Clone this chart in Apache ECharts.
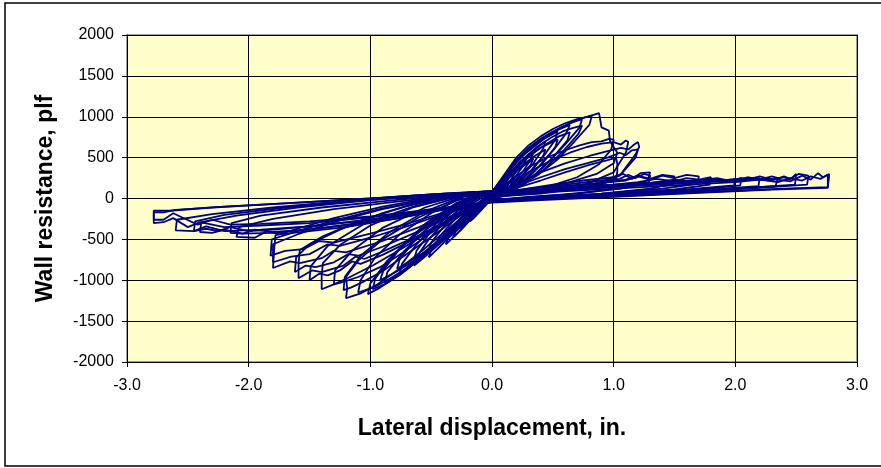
<!DOCTYPE html>
<html>
<head>
	<meta http-equiv="Content-Type" content="text/html; charset=UTF-8">
	<title>Wall resistance hysteresis</title>
	<script src="https://cdn.jsdelivr.net/npm/echarts@6/dist/echarts.min.js"></script>
	<style>
		body { margin: 0; background: #fff; }
	</style>
</head>
<body>

	<div id="main" style="width: 881px;height:468px;"></div>

	<script>

		// axis ticks
		const xTicks = [-3, -2, -1, 0, 1, 2, 3];
		const yTicks = [-2000, -1500, -1000, -500, 0, 500, 1000, 1500, 2000];

		// each cycle: [displacement in., resistance plf]
		const c01 = [[0,0],[0.05,100],[0.1,200],[0.15,300],[0.13,230],[0.08,120],[0.03,40],[0,0],[-0.05,-80],[-0.1,-160],[-0.15,-240],[-0.18,-280],[-0.16,-210],[-0.1,-100],[-0.04,-10],[0,40]];
		const c02 = [[0,40],[0.06,140],[0.12,240],[0.17,320],[0.22,400],[0.2,330],[0.14,200],[0.07,90],[0,20],[-0.06,-70],[-0.12,-170],[-0.19,-280],[-0.26,-390],[-0.24,-320],[-0.17,-180],[-0.08,-40],[0,50]];
		const c03 = [[0,50],[0.06,150],[0.12,250],[0.18,340],[0.23,420],[0.28,480],[0.26,410],[0.19,260],[0.1,120],[0,20],[-0.07,-80],[-0.14,-190],[-0.2,-290],[-0.26,-390],[-0.32,-470],[-0.3,-400],[-0.22,-240],[-0.11,-60],[0,60]];
		const c04 = [[0,60],[0.07,170],[0.14,290],[0.2,390],[0.27,480],[0.34,560],[0.32,480],[0.25,320],[0.15,160],[0.06,60],[0,10],[-0.08,-90],[-0.16,-220],[-0.23,-340],[-0.3,-450],[-0.38,-560],[-0.36,-480],[-0.27,-300],[-0.15,-110],[-0.05,20],[0,70]];
		const c05 = [[0,70],[0.08,170],[0.16,280],[0.24,380],[0.3,440],[0.34,490],[0.32,420],[0.24,260],[0.13,120],[0.05,40],[0,0],[-0.09,-100],[-0.18,-230],[-0.27,-360],[-0.33,-440],[-0.38,-500],[-0.36,-420],[-0.26,-250],[-0.14,-80],[0,70]];
		const c06 = [[0,70],[0.08,200],[0.16,340],[0.24,460],[0.31,550],[0.38,630],[0.44,700],[0.42,610],[0.34,430],[0.24,260],[0.13,130],[0.05,40],[0,0],[-0.1,-120],[-0.2,-260],[-0.29,-390],[-0.37,-500],[-0.45,-620],[-0.52,-720],[-0.5,-630],[-0.41,-430],[-0.29,-230],[-0.16,-60],[-0.05,40],[0,80]];
		const c07 = [[0,80],[0.1,200],[0.19,330],[0.28,440],[0.36,530],[0.44,600],[0.42,520],[0.33,350],[0.21,180],[0.09,70],[0,10],[-0.12,-120],[-0.23,-270],[-0.34,-420],[-0.44,-540],[-0.52,-630],[-0.5,-540],[-0.39,-330],[-0.24,-130],[-0.1,20],[0,80]];
		const c08 = [[0,80],[0.08,220],[0.17,390],[0.26,530],[0.35,640],[0.43,730],[0.49,780],[0.54,820],[0.52,720],[0.43,530],[0.32,340],[0.2,180],[0.08,70],[0,10],[-0.12,-130],[-0.24,-300],[-0.35,-450],[-0.45,-580],[-0.55,-710],[-0.64,-820],[-0.62,-720],[-0.52,-500],[-0.38,-270],[-0.22,-80],[-0.08,40],[0,80]];
		const c09 = [[0,80],[0.1,210],[0.2,370],[0.3,510],[0.4,620],[0.48,680],[0.54,720],[0.52,630],[0.42,440],[0.3,260],[0.16,120],[0.05,40],[0,0],[-0.14,-150],[-0.27,-320],[-0.4,-490],[-0.52,-630],[-0.64,-740],[-0.62,-640],[-0.5,-400],[-0.33,-170],[-0.15,10],[0,80]];
		const c10 = [[0,80],[0.09,250],[0.18,430],[0.27,570],[0.36,680],[0.45,770],[0.54,840],[0.64,900],[0.61,800],[0.51,600],[0.39,400],[0.26,220],[0.12,90],[0,10],[-0.14,-150],[-0.28,-340],[-0.41,-510],[-0.53,-660],[-0.65,-800],[-0.76,-920],[-0.74,-800],[-0.62,-560],[-0.46,-310],[-0.28,-100],[-0.1,40],[0,80]];
		const c11 = [[0,80],[0.12,240],[0.24,430],[0.36,580],[0.46,680],[0.55,760],[0.64,810],[0.62,710],[0.5,500],[0.36,300],[0.2,130],[0.06,40],[0,0],[-0.16,-170],[-0.31,-360],[-0.45,-530],[-0.58,-680],[-0.69,-780],[-0.78,-860],[-0.76,-750],[-0.63,-500],[-0.45,-250],[-0.24,-50],[0,80]];
		const c12 = [[0,80],[0.1,270],[0.2,470],[0.3,620],[0.4,730],[0.5,820],[0.58,880],[0.66,930],[0.74,970],[0.72,870],[0.6,660],[0.46,440],[0.32,250],[0.16,100],[0,0],[-0.16,-170],[-0.32,-380],[-0.47,-570],[-0.6,-730],[-0.72,-870],[-0.8,-960],[-0.88,-1030],[-0.86,-900],[-0.72,-640],[-0.54,-380],[-0.34,-150],[-0.14,30],[0,80]];
		const c13 = [[0,80],[0.12,260],[0.24,460],[0.36,620],[0.48,740],[0.58,820],[0.66,860],[0.74,890],[0.71,790],[0.58,570],[0.42,350],[0.25,160],[0.08,50],[0,0],[-0.18,-190],[-0.34,-400],[-0.5,-600],[-0.64,-760],[-0.78,-890],[-0.92,-1000],[-0.89,-870],[-0.74,-580],[-0.54,-300],[-0.3,-60],[-0.1,50],[0,80]];
		const c14 = [[0,80],[0.1,290],[0.2,500],[0.3,650],[0.4,760],[0.5,850],[0.6,920],[0.7,970],[0.82,1010],[0.8,900],[0.68,700],[0.54,480],[0.38,290],[0.2,120],[0,0],[-0.18,-190],[-0.34,-410],[-0.5,-620],[-0.64,-800],[-0.76,-940],[-0.87,-1040],[-0.98,-1110],[-0.96,-980],[-0.82,-700],[-0.62,-420],[-0.4,-170],[-0.18,20],[0,80]];
		const c15 = [[0,80],[0.12,300],[0.24,510],[0.36,670],[0.48,790],[0.6,890],[0.7,960],[0.78,1000],[0.84,1025],[0.88,1045],[0.9,870],[0.96,830],[0.97,700],[0.99,650],[1.03,560],[1.0,430],[0.86,300],[0.62,190],[0.36,110],[0,30],[-0.2,-150],[-0.38,-420],[-0.54,-650],[-0.68,-840],[-0.82,-990],[-0.92,-1090],[-1.02,-1170],[-1.0,-1040],[-0.86,-760],[-0.66,-480],[-0.42,-210],[-0.18,10],[0,80]];
		const c16 = [[0,80],[0.15,220],[0.3,380],[0.45,500],[0.6,590],[0.72,650],[0.82,690],[0.9,700],[0.96,730],[1.0,720],[0.98,600],[0.88,420],[0.7,260],[0.45,140],[0.2,60],[0,0],[-0.2,-200],[-0.38,-450],[-0.56,-680],[-0.72,-870],[-0.86,-1000],[-0.98,-1090],[-1.1,-1150],[-1.08,-1000],[-0.96,-720],[-0.76,-440],[-0.5,-180],[-0.24,20],[0,80]];
		const c17 = [[0,80],[0.16,200],[0.32,340],[0.48,460],[0.64,560],[0.78,630],[0.9,670],[1.0,690],[1.06,660],[1.1,710],[1.12,690],[1.1,560],[1.0,320],[0.75,160],[0.4,80],[0,40],[-0.2,-180],[-0.4,-420],[-0.6,-670],[-0.78,-880],[-0.94,-1050],[-1.08,-1160],[-1.16,-1200],[-1.2,-1220],[-1.19,-1100],[-1.2,-960],[-1.1,-760],[-0.9,-500],[-0.6,-230],[-0.3,-30],[0,80]];
		const c18 = [[0,80],[0.2,180],[0.4,320],[0.6,430],[0.8,520],[0.95,580],[1.06,620],[1.12,600],[1.16,650],[1.2,690],[1.21,630],[1.18,540],[1.06,300],[0.8,150],[0.4,70],[0,30],[-0.25,-200],[-0.48,-450],[-0.7,-680],[-0.9,-890],[-1.06,-1020],[-1.16,-1090],[-1.22,-1120],[-1.21,-960],[-1.08,-700],[-0.85,-420],[-0.55,-160],[-0.25,20],[0,80]];
		const c19 = [[0,70],[0.2,150],[0.4,260],[0.6,360],[0.8,440],[0.95,500],[1.05,560],[1.1,530],[1.15,590],[1.2,600],[1.18,500],[1.05,280],[0.8,140],[0.4,60],[0,20],[-0.25,-180],[-0.5,-420],[-0.72,-650],[-0.92,-840],[-1.1,-960],[-1.22,-1020],[-1.3,-1050],[-1.29,-880],[-1.15,-640],[-0.9,-360],[-0.55,-110],[-0.25,30],[0,80]];
		const c20 = [[0,70],[0.2,130],[0.4,220],[0.6,320],[0.8,410],[0.95,470],[1.02,500],[1.03,420],[1.03,330],[1.02,250],[0.9,170],[0.6,100],[0.3,60],[0,20],[-0.25,-160],[-0.5,-390],[-0.75,-620],[-0.98,-820],[-1.18,-970],[-1.3,-1050],[-1.4,-1110],[-1.4,-950],[-1.39,-790],[-1.25,-570],[-1.0,-330],[-0.65,-110],[-0.3,20],[0,80]];
		const c21 = [[0,60],[0.25,110],[0.5,170],[0.75,220],[1.0,260],[1.08,300],[1.15,240],[1.22,310],[1.3,320],[1.28,220],[1.1,130],[0.7,60],[0.3,20],[0,-20],[-0.3,-230],[-0.6,-470],[-0.9,-690],[-1.08,-800],[-1.15,-770],[-1.25,-880],[-1.35,-940],[-1.42,-920],[-1.5,-1000],[-1.49,-830],[-1.35,-580],[-1.05,-310],[-0.65,-100],[-0.3,30],[0,80]];
		const c22 = [[0,60],[0.3,120],[0.6,170],[0.9,220],[1.05,240],[1.12,290],[1.18,250],[1.25,300],[1.3,280],[1.29,200],[1.05,120],[0.6,50],[0,-20],[-0.3,-220],[-0.6,-450],[-0.9,-650],[-1.05,-740],[-1.12,-710],[-1.22,-820],[-1.4,-900],[-1.48,-880],[-1.59,-975],[-1.59,-800],[-1.58,-630],[-1.4,-470],[-1.1,-280],[-0.7,-90],[-0.3,30],[0,80]];
		const c23 = [[0,60],[0.3,100],[0.6,150],[0.9,190],[1.1,230],[1.2,280],[1.3,240],[1.4,290],[1.5,270],[1.49,180],[1.3,120],[0.9,60],[0.4,10],[0,-20],[-0.3,-190],[-0.6,-400],[-0.9,-590],[-1.1,-700],[-1.18,-680],[-1.3,-780],[-1.45,-840],[-1.53,-820],[-1.62,-900],[-1.61,-720],[-1.5,-560],[-1.25,-380],[-0.9,-180],[-0.45,10],[0,80]];
		const c24 = [[0,60],[0.3,100],[0.6,150],[0.9,190],[1.1,220],[1.2,270],[1.3,230],[1.4,280],[1.5,250],[1.6,290],[1.7,270],[1.69,180],[1.4,120],[0.9,60],[0.4,10],[0,-20],[-0.3,-150],[-0.6,-350],[-0.9,-520],[-1.2,-660],[-1.3,-640],[-1.4,-730],[-1.58,-790],[-1.66,-770],[-1.8,-850],[-1.79,-620],[-1.78,-450],[-1.6,-370],[-1.3,-240],[-0.9,-100],[-0.45,20],[0,80]];
		const c25 = [[0,60],[0.3,90],[0.7,140],[1.0,170],[1.2,200],[1.35,240],[1.5,210],[1.6,250],[1.7,230],[1.8,260],[1.79,170],[1.5,110],[1.0,60],[0.5,10],[0,-30],[-0.3,-140],[-0.7,-340],[-1.0,-480],[-1.25,-580],[-1.35,-560],[-1.5,-680],[-1.65,-710],[-1.8,-780],[-1.8,-560],[-1.6,-440],[-1.3,-290],[-0.9,-130],[-0.4,20],[0,80]];
		const c26 = [[0,50],[0.4,100],[0.8,150],[1.1,180],[1.3,190],[1.5,230],[1.65,200],[1.8,240],[1.9,220],[2.0,240],[1.99,160],[1.6,110],[1.0,60],[0.5,10],[0,-30],[-0.35,-150],[-0.7,-310],[-1.0,-430],[-1.3,-540],[-1.42,-520],[-1.55,-620],[-1.7,-640],[-1.82,-700],[-1.81,-500],[-1.6,-400],[-1.3,-270],[-0.9,-120],[-0.4,20],[0,80]];
		const c27 = [[0,60],[0.4,100],[0.8,140],[1.2,180],[1.5,210],[1.7,220],[1.85,250],[1.95,220],[2.05,250],[2.04,160],[1.7,110],[1.2,70],[0.6,20],[0,-30],[-0.4,-130],[-0.8,-250],[-1.2,-350],[-1.5,-400],[-1.75,-440],[-1.85,-400],[-1.95,-480],[-2.1,-470],[-2.08,-350],[-1.8,-250],[-1.3,-130],[-0.8,-40],[-0.3,40],[0,80]];
		const c28 = [[0,50],[0.4,90],[0.8,130],[1.2,170],[1.6,200],[1.8,220],[1.95,210],[2.05,250],[2.15,230],[2.2,250],[2.19,150],[1.8,110],[1.2,60],[0.6,10],[0,-40],[-0.4,-140],[-0.8,-250],[-1.2,-330],[-1.5,-380],[-1.8,-410],[-1.95,-380],[-2.05,-430],[-2.15,-420],[-2.14,-300],[-1.9,-210],[-1.4,-110],[-0.8,-20],[-0.3,50],[0,80]];
		const c29 = [[0,50],[0.5,110],[1.0,160],[1.4,200],[1.8,230],[2.0,220],[2.1,260],[2.2,230],[2.3,270],[2.35,250],[2.33,150],[1.9,110],[1.3,60],[0.6,10],[0,-40],[-0.5,-150],[-1.0,-280],[-1.4,-360],[-1.8,-420],[-2.05,-430],[-2.2,-380],[-2.3,-420],[-2.4,-410],[-2.39,-290],[-2.1,-210],[-1.6,-110],[-1.0,-20],[-0.4,50],[0,90]];
		const c30 = [[0,50],[0.5,100],[1.0,150],[1.5,190],[1.9,220],[2.1,230],[2.2,270],[2.3,230],[2.4,260],[2.45,230],[2.5,300],[2.49,170],[2.1,130],[1.5,80],[0.8,30],[0,-40],[-0.5,-140],[-1.0,-260],[-1.5,-340],[-1.8,-380],[-2.0,-400],[-2.15,-350],[-2.25,-400],[-2.35,-370],[-2.45,-400],[-2.44,-280],[-2.2,-200],[-1.7,-110],[-1.1,-30],[-0.5,40],[0,90]];
		const c31 = [[0,50],[0.5,100],[1.0,150],[1.5,200],[1.9,220],[2.15,240],[2.3,220],[2.4,270],[2.45,240],[2.52,300],[2.6,280],[2.59,170],[2.2,130],[1.6,80],[0.9,30],[0,-40],[-0.5,-140],[-1.0,-260],[-1.5,-340],[-1.9,-380],[-2.2,-400],[-2.35,-340],[-2.45,-400],[-2.6,-390],[-2.59,-260],[-2.3,-190],[-1.8,-110],[-1.2,-30],[-0.6,40],[0,90]];
		const c32 = [[0,50],[0.5,90],[1.0,140],[1.5,180],[2.0,220],[2.3,240],[2.45,210],[2.55,280],[2.62,230],[2.68,310],[2.72,260],[2.77,300],[2.77,260],[2.76,140],[2.4,120],[1.8,80],[1.0,30],[0.4,-10],[0,-40],[-0.5,-130],[-1.0,-230],[-1.5,-300],[-1.9,-330],[-2.2,-350],[-2.4,-290],[-2.5,-350],[-2.62,-240],[-2.7,-290],[-2.78,-300],[-2.78,-170],[-2.7,-170],[-2.6,-140],[-2.2,-100],[-1.6,-50],[-0.9,10],[-0.3,70],[0,90]];
		const c33 = [[0,40],[0.5,80],[1.0,120],[1.5,160],[2.0,200],[2.2,230],[2.35,200],[2.45,250],[2.55,220],[2.62,270],[2.7,240],[2.76,290],[2.77,270],[2.76,130],[2.3,110],[1.7,70],[1.0,20],[0.4,-20],[0,-50],[-0.5,-140],[-1.0,-220],[-1.5,-280],[-1.9,-310],[-2.15,-320],[-2.3,-260],[-2.42,-320],[-2.55,-230],[-2.62,-180],[-2.7,-260],[-2.78,-260],[-2.78,-150],[-2.65,-150],[-2.3,-110],[-1.7,-60],[-1.0,0],[-0.4,60],[0,80]];

		const cycles = [c01, c02, c03, c04, c05, c06, c07, c08, c09, c10, c11, c12, c13, c14, c15, c16, c17,
			c18, c19, c20, c21, c22, c23, c24, c25, c26, c27, c28, c29, c30, c31, c32, c33];

		const lineColor = '#000080';
		const fontName = 'Liberation Sans';

		var chartDom = document.getElementById('main');
		var myChart = echarts.init(chartDom);
		var option;

		var seriesList = [];
		for (var i = 0; i < cycles.length; i++) {
			seriesList.push({
				type: 'line',
				data: cycles[i],
				showSymbol: false,
				symbol: 'none',
				lineStyle: { color: lineColor, width: 1.8 },
				silent: true
			});
		}

option = {
  animation: false,
  backgroundColor: '#ffffff',
  textStyle: { fontFamily: fontName },
  grid: {
    left: 127,
    right: 24,
    top: 35,
    bottom: 106,
    show: true,
    backgroundColor: '#FFFFCC',
    borderColor: '#808080',
    borderWidth: 1.5
  },
  graphic: [
    {
      type: 'rect',
      shape: { x: 5, y: 3, width: 890, height: 463 },
      style: { fill: 'none', stroke: '#000', lineWidth: 1.5 },
      silent: true
    }
  ],
  xAxis: {
    type: 'value',
    min: xTicks[0],
    max: xTicks[xTicks.length - 1],
    interval: 1,
    name: 'Lateral displacement, in.',
    nameLocation: 'middle',
    nameGap: 55,
    nameTextStyle: { fontSize: 23, fontWeight: 'bold', color: '#000', fontFamily: fontName },
    axisLine: { onZero: false, lineStyle: { color: '#000', width: 1 } },
    axisTick: { show: true, length: 5, lineStyle: { color: '#000' } },
    axisLabel: {
      fontSize: 16, color: '#000', margin: 16,
      formatter: function (v) { return v.toFixed(1); }
    },
    splitLine: { show: true, lineStyle: { color: '#000', width: 1 } }
  },
  yAxis: {
    type: 'value',
    min: yTicks[0],
    max: yTicks[yTicks.length - 1],
    interval: 500,
    name: 'Wall resistance, plf',
    nameLocation: 'middle',
    nameGap: 70,
    nameRotate: 90,
    nameTextStyle: { fontSize: 23, fontWeight: 'bold', color: '#000', fontFamily: fontName },
    axisLine: { show: true, onZero: false, lineStyle: { color: '#000', width: 1 } },
    axisTick: { show: true, length: 5, lineStyle: { color: '#000' } },
    axisLabel: {
      fontSize: 16, color: '#000', margin: 13,
      formatter: function (v) { return String(v); }
    },
    splitLine: { show: true, lineStyle: { color: '#000', width: 1 } }
  },
  series: seriesList
};

		option && myChart.setOption(option);

	</script>

</body>
</html>
